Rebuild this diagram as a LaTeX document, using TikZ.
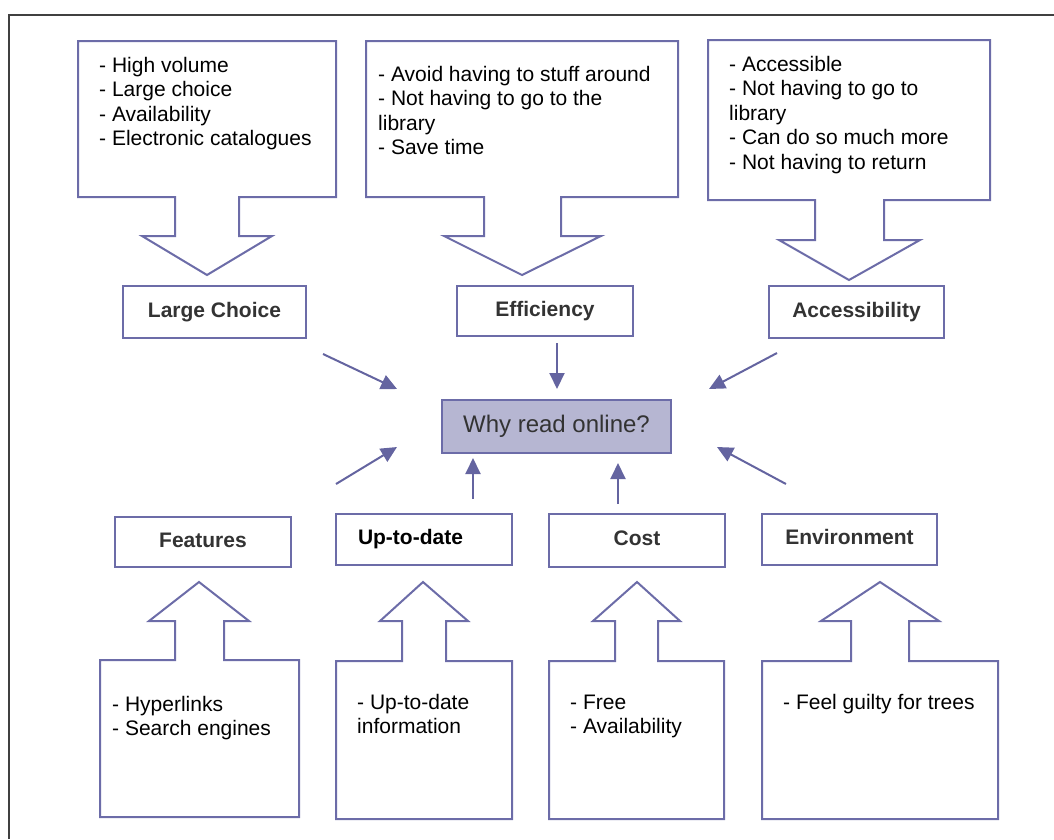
\documentclass[tikz,border=0pt]{standalone}
\usepackage{fontspec}
\setmainfont{Liberation Sans}
\usetikzlibrary{arrows.meta}
\definecolor{boxc}{RGB}{108,108,168}
\definecolor{arrc}{RGB}{100,100,160}
\definecolor{fillc}{RGB}{182,182,210}
\definecolor{framec}{RGB}{64,64,64}
\definecolor{labc}{RGB}{51,51,51}
\begin{document}
\begin{tikzpicture}[x=1pt,y=-1pt,
  callout/.style={draw=boxc, line width=2pt, line join=miter, fill=white},
  lblbox/.style={draw=boxc, line width=2pt, inner sep=0pt, fill=white,
    font=\fontsize{21}{24.5}\selectfont\bfseries, text=labc,
    text height=15pt, text depth=4.5pt},
  body/.style={anchor=north west, inner sep=0pt, align=left,
    font=\fontsize{21}{24.5}\selectfont},
  conn/.style={draw=arrc, line width=2pt, -{Triangle[length=16pt,width=15pt]}}
]
\useasboundingbox (0,0) rectangle (1054,839);
\draw[framec, line width=2.2pt] (9,839) -- (9,15) -- (1054,15);

% top callouts
\draw[callout] (78,41) -- (336,41) -- (336,197) -- (239,197) -- (239,236) -- (272,236)
  -- (207,275) -- (142,236) -- (175,236) -- (175,197) -- (78,197) -- cycle;
\draw[callout] (366,41) -- (678,41) -- (678,197) -- (561,197) -- (561,236) -- (601,236)
  -- (522,275) -- (444,236) -- (484,236) -- (484,197) -- (366,197) -- cycle;
\draw[callout] (708,40) -- (990,40) -- (990,200) -- (884,200) -- (884,240) -- (920,240)
  -- (849,280) -- (779,240) -- (815,240) -- (815,200) -- (708,200) -- cycle;

\node[body] (lcText) at (99,56) {\rule{0pt}{16pt}- High volume\\- Large choice\\- Availability\\- Electronic catalogues};
\node[body] (efText) at (378,65) {\rule{0pt}{16pt}- Avoid having to stuff around\\- Not having to go to the\\library\\- Save time};
\node[body] (acText) at (729,55) {\rule{0pt}{16pt}- Accessible\\- Not having to go to\\library\\- Can do so much more\\- Not having to return};

% bottom callouts
\draw[callout] (100,817) -- (100,660) -- (175,660) -- (175,621) -- (149,621) -- (199,582)
  -- (249,621) -- (224,621) -- (224,660) -- (299,660) -- (299,817) -- cycle;
\draw[callout] (336,819) -- (336,661) -- (402,661) -- (402,621) -- (380,621) -- (423,582)
  -- (468,621) -- (446,621) -- (446,661) -- (512,661) -- (512,819) -- cycle;
\draw[callout] (549,819) -- (549,661) -- (615,661) -- (615,621) -- (593,621) -- (637,582)
  -- (680,621) -- (658,621) -- (658,661) -- (724,661) -- (724,819) -- cycle;
\draw[callout] (762,819) -- (762,661) -- (851,661) -- (851,621) -- (821,621) -- (880,582)
  -- (939,621) -- (909,621) -- (909,661) -- (998,661) -- (998,819) -- cycle;

\node[body] (feText) at (112,695) {\rule{0pt}{16pt}- Hyperlinks\\- Search engines};
\node[body] (udText) at (357,693) {\rule{0pt}{16pt}- Up-to-date\\information};
\node[body] (coText) at (570,693) {\rule{0pt}{16pt}- Free\\- Availability};
\node[body] (enText) at (783,693) {\rule{0pt}{16pt}- Feel guilty for trees};

% label boxes
\node[lblbox, minimum width=183pt, minimum height=52pt] (lc) at (214.5,312) {Large Choice};
\node[lblbox, minimum width=176pt, minimum height=50pt] (ef) at (545,311) {Efficiency};
\node[lblbox, minimum width=175pt, minimum height=52pt] (ac) at (856.5,312) {Accessibility};
\node[lblbox, minimum width=176pt, minimum height=50pt] (fe) at (203,542) {Features};
\node[lblbox, text=black, text width=132pt, align=left, inner xsep=22pt, minimum height=51pt] (ud) at (424,539.5) {Up-to-date};
\node[lblbox, minimum width=176pt, minimum height=53pt] (co) at (637,540.5) {Cost};
\node[lblbox, minimum width=175pt, minimum height=51pt] (en) at (849.5,539.5) {Environment};

% centre
\node[draw=boxc, line width=2pt, fill=fillc, inner sep=0pt, minimum width=229pt, minimum height=53pt,
  font=\fontsize{24}{28}\selectfont, text=labc, text height=17.5pt, text depth=5pt] (why) at (556.5,426.5) {Why read online?};

% connectors
\coordinate (lcS) at (323,354); \coordinate (lcT) at (397,389);
\coordinate (efS) at (557,343); \coordinate (efT) at (557,389);
\coordinate (acS) at (777,353); \coordinate (acT) at (709,389);
\coordinate (feS) at (336,484); \coordinate (feT) at (397,447);
\coordinate (udS) at (473,499); \coordinate (udT) at (473,458);
\coordinate (coS) at (618,504); \coordinate (coT) at (618,463);
\coordinate (enS) at (786,484); \coordinate (enT) at (717,447);
\draw[conn] (lcS) -- (lcT);
\draw[conn] (efS) -- (efT);
\draw[conn] (acS) -- (acT);
\draw[conn] (feS) -- (feT);
\draw[conn] (udS) -- (udT);
\draw[conn] (coS) -- (coT);
\draw[conn] (enS) -- (enT);
\end{tikzpicture}
\end{document}
